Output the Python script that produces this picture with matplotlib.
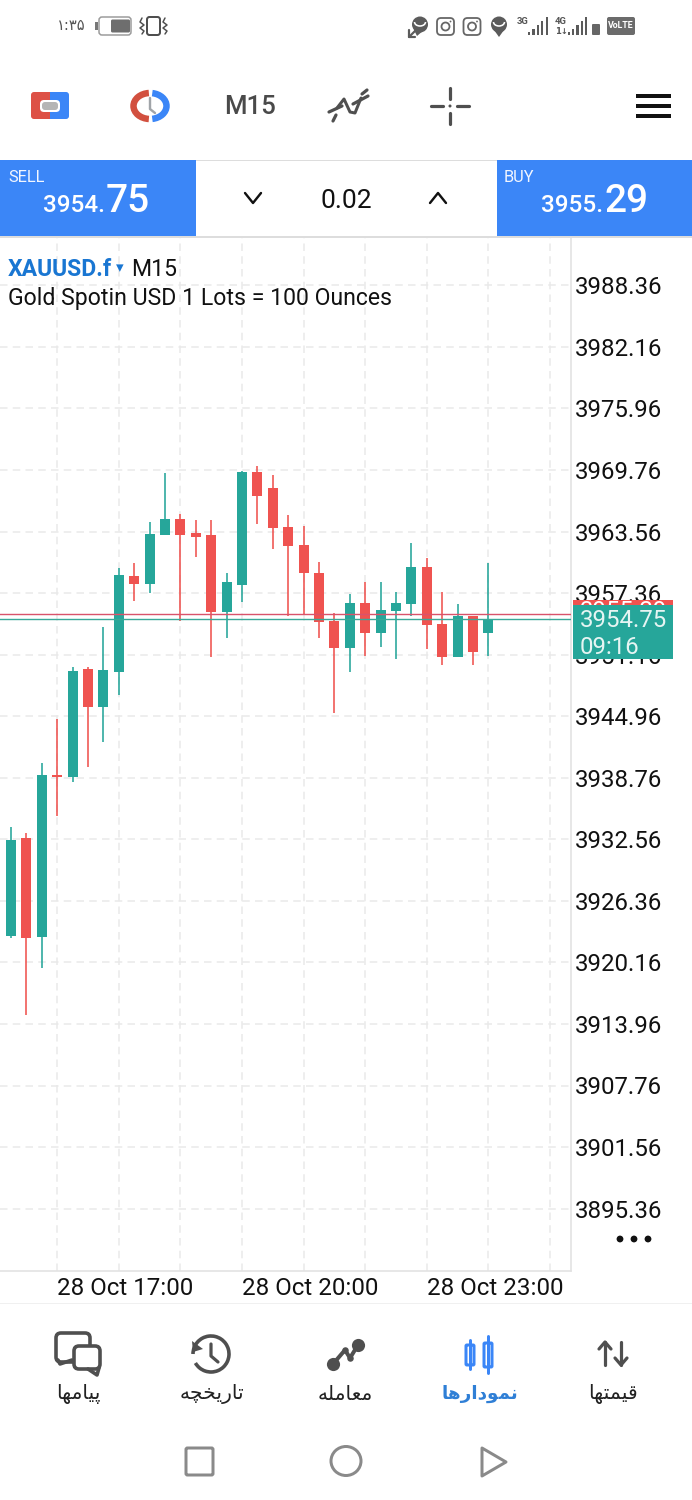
import numpy as np
import matplotlib
matplotlib.use("Agg")
import matplotlib.pyplot as plt
from matplotlib.patches import Rectangle, FancyBboxPatch, Circle, Ellipse, Arc, Polygon

# ---------- data ----------
opens  = [3922.82,3932.69,3922.72,3938.94,3938.84,3949.71,3945.89,3949.41,3959.08,3958.28,3963.21,3964.82,3963.41,3963.21,3955.46,3958.18,
          3969.56,3967.95,3964.02,3962.21,3959.38,3954.55,3951.83,3956.36,3953.34,3955.56,3956.26,3959.99,3954.25,3950.92,3955.05,3953.34]
closes = [3932.49,3922.62,3939.04,3938.84,3949.51,3945.89,3949.61,3959.18,3958.28,3963.31,3964.82,3963.21,3963.01,3955.46,3958.48,3969.56,
          3967.14,3963.92,3962.10,3959.38,3954.45,3951.83,3956.36,3953.34,3955.66,3956.36,3959.99,3954.15,3950.92,3955.05,3951.43,3954.75]
highs  = [3933.80,3933.19,3940.25,3944.68,3949.92,3949.92,3953.95,3959.89,3960.39,3964.52,3969.46,3965.33,3964.72,3964.72,3959.38,3969.66,
          3970.16,3969.26,3965.23,3964.12,3960.49,3955.36,3957.27,3958.48,3958.48,3957.47,3962.41,3960.90,3957.47,3956.26,3955.05,3960.39]
lows   = [3922.62,3914.86,3919.60,3934.91,3938.33,3939.84,3942.36,3947.10,3956.56,3957.37,3963.21,3954.55,3961.00,3950.92,3952.84,3956.46,
          3964.32,3961.80,3955.05,3955.25,3952.84,3945.28,3949.41,3951.02,3951.93,3950.72,3955.05,3951.73,3950.12,3950.92,3950.12,3951.02]
price_ticks = [3895.36,3901.56,3907.76,3913.96,3920.16,3926.36,3932.56,3938.76,3944.96,3951.16,3957.36,3963.56,3969.76,3975.96,3982.16,3988.36]
time_ticks = [3,7,11,15,19,23,27,31,35]
time_labels = ["28 Oct 17:00","","","28 Oct 20:00","","","28 Oct 23:00","",""]
bid = 3954.75
ask = 3955.29
sell_big, sell_small = "75", "3954."
buy_big, buy_small = "29", "3955."
lot = "0.02"

nav_labels = ["\ufb58\ufbff\ufe8e\ufee3\ufeec\ufe8e"[::-1],
              "\ufe97\ufe8e\ufead\ufbfe\ufea8\ufb7d\ufeea"[::-1],
              "\ufee3\ufecc\ufe8e\ufee3\ufee0\ufeea"[::-1],
              "\ufee7\ufee4\ufeee\ufea9\ufe8d\ufead\ufeeb\ufe8e"[::-1],
              "\ufed7\ufbff\ufee4\ufe98\ufeec\ufe8e"[::-1]]
nav_x = [78,212,345,480,613]

TEAL, RED, BLUE = "#26a69a", "#ef5350", "#3b86f7"
GRID = "#e9e9e9"
plt.rcParams["font.family"] = ["Roboto", "DejaVu Sans"]
px = 0.72  # one pixel in points at dpi 100

fig = plt.figure(figsize=(6.92, 15), dpi=100, facecolor="white")
W, H = 692, 1500
ax = fig.add_axes([0, (H-1271)/H, 571/W, (1271-237)/H], zorder=1)
unit = 15.4
ax.set_xlim(-11/unit, (571-11)/unit)
p = lambda y: 3969.76 - (y-470)*6.2/61.55
ax.set_ylim(p(1271), p(237))

# ---------- candles ----------
x = np.arange(len(opens))
o, c, h, l = map(np.array, (opens, closes, highs, lows))
cols = [TEAL if b >= a else RED for a, b in zip(o, c)]
ax.vlines(x, l, h, colors=cols, lw=1.6*px, zorder=3)
ax.bar(x, np.maximum(np.abs(c-o), 0.2), bottom=np.minimum(o, c), width=10/unit, color=cols, zorder=4, linewidth=0)
ax.axhline(ask, color="#d9536b", lw=1.4*px, zorder=5)
ax.axhline(bid, color="#3aa898", lw=1.4*px, zorder=5)

ax.set_yticks(price_ticks)
ax.set_yticklabels([f"{v:.2f}" for v in price_ticks])
ax.set_xticks(time_ticks)
ax.set_xticklabels(time_labels, ha="left")
ax.yaxis.tick_right()
ax.tick_params(axis="y", length=0, pad=3, labelsize=17.3, labelcolor="#111111")
ax.tick_params(axis="x", length=0, pad=4, labelsize=17.4, labelcolor="#111111")
ax.grid(True, color=GRID, lw=1.5*px, linestyle=(0, (5, 3.5)), zorder=0)
ax.set_axisbelow(True)
for s in ("top", "left"):
    ax.spines[s].set_visible(False)
for s in ("right", "bottom"):
    ax.spines[s].set_color("#e2e2e2")
    ax.spines[s].set_linewidth(1.6*px)

# ---------- interface overlay, in screen pixels ----------
ov = fig.add_axes([0, 0, 1, 1], zorder=2)
ov.set_xlim(0, W); ov.set_ylim(H, 0); ov.axis("off"); ov.patch.set_alpha(0)
DK = "#4f4f4f"
def rect(x0, y0, x1, y1, fc, **k):
    ov.add_patch(Rectangle((x0, y0), x1-x0, y1-y0, fc=fc, ec="none", **k))
def rrect(x0, y0, x1, y1, r, fc="none", ec="none", lw=0, **k):
    ov.add_patch(FancyBboxPatch((x0+r, y0+r), x1-x0-2*r, y1-y0-2*r, boxstyle=f"round,pad={r},rounding_size={r}", fc=fc, ec=ec, lw=lw*px, **k))
def line(xs, ys, col=DK, lw=3, **k):
    ov.plot(xs, ys, color=col, lw=lw*px, solid_capstyle=k.pop("cap", "round"), solid_joinstyle="round", **k)
def txt(x0, y0, s, size, col="#111111", ha="left", va="center", **k):
    ov.text(x0, y0, s, fontsize=size, color=col, ha=ha, va=va, **k)

# price flags
rect(573, 600, 673, 625, RED, zorder=5)
txt(580, 612, f"{ask:.2f}", 17.3, "white", zorder=6)
rect(573, 605, 673, 659, TEAL, zorder=7)
txt(580, 620.5, f"{bid:.2f}", 17.3, "#e6f5f3", zorder=8)
txt(580, 647.5, "09:16", 17.3, "#e6f5f3", zorder=8)
for dx in (620, 634, 648):
    ov.add_patch(Circle((dx, 1239), 3.4, fc="#111111", ec="none"))

# title
txt(8, 269, "XAUUSD.f", 16.6, "#1976d2", fontweight="bold")
txt(116, 268, "\u25be", 11, "#1976d2")
txt(131, 269, "M15", 16.6, "#111111")
txt(8, 298, "Gold Spotin USD 1 Lots = 100 Ounces", 16.6, "#111111")

# trade bar
rect(0, 160, 195.5, 236.5, BLUE)
rect(496.5, 160, 692, 236.5, BLUE)
rect(195.5, 159.5, 496.5, 161, "#dddddd")
rect(0, 235.5, 692, 237.5, "#dddddd")
txt(8, 178, "SELL", 11.8, "#f2f6ff")
txt(504, 178, "BUY", 11.8, "#f2f6ff")
txt(105, 212, sell_small, 17.5, "white", ha="right", va="baseline", fontweight="medium")
txt(106, 212, sell_big, 28, "white", va="baseline", fontweight="medium")
txt(603, 212, buy_small, 17.5, "white", ha="right", va="baseline", fontweight="medium")
txt(604, 212, buy_big, 28, "white", va="baseline", fontweight="medium")
txt(346, 200.5, lot, 19, "#111111", ha="center")
line([245, 253, 261], [193, 203, 193], "#111111", 2.4)
line([430, 438, 446], [203, 193, 203], "#111111", 2.4)

# status bar
ov.text(57, 26, "\u06f1:\u06f3\u06f5", fontsize=10.5, color="#555555", va="center", family=["DejaVu Sans"])
rrect(99, 17, 131, 35, 3, fc="white", ec="#9a9a9a", lw=1.5)
rrect(111, 19.5, 130, 32.5, 1.5, fc="#6e6e6e")
rect(95, 22, 97.5, 30, "#777777")
rrect(147, 17, 160, 35, 2.5, fc="white", ec=DK, lw=2)
for vx in (142, 165):
    line([vx, vx-2, vx+2, vx-2, vx+2, vx], [18, 22, 25, 28, 31, 34], DK, 1.5)
# notification icons
for cx in (420, 499):
    ov.add_patch(Ellipse((cx, 24.5), 16, 16, fc="#5b5b5b", ec="none"))
    ov.add_patch(Arc((cx, 22), 11, 8, theta1=0, theta2=180, color="white", lw=1.6*px))
ov.add_patch(Polygon([[414, 30], [424, 30], [417, 36]], fc="#5b5b5b", ec="none"))
line([409, 417], [37, 29], "#5b5b5b", 2.2)
line([409, 409, 415], [30, 37, 37], "#5b5b5b", 2.2)
ov.add_patch(Polygon([[494, 30], [504, 30], [499, 37]], fc="#5b5b5b", ec="none"))
for cx in (445.5, 472):
    rrect(cx-8.5, 18, cx+8.5, 35, 4, ec="#666666", lw=1.8)
    ov.add_patch(Circle((cx, 26.5), 4, fc="none", ec="#666666", lw=1.8*px))
    ov.add_patch(Circle((cx+5, 21.5), 0.9, fc="#666666", ec="none"))
txt(517, 21, "3G", 6.8, "#555555", fontweight="bold")
txt(555, 21, "4G", 6.8, "#555555", fontweight="bold")
txt(555, 31, "1\u2193", 6, "#555555", family=["DejaVu Sans"], fontweight="bold")
for i, top in enumerate((32, 29, 25, 21, 17)):
    rect(528+i*4.4, top, 530.2+i*4.4, 35, "#5b5b5b")
for i, top in enumerate((32, 29, 25, 21, 17)):
    rect(568+i*4.2, top, 570.2+i*4.2, 35, "#5b5b5b")
rrect(592, 24, 600, 35, 1, fc="#666666")
rrect(607, 17, 635, 35, 2, fc="#6b6b6b")
txt(621, 26, "VoLTE", 6.4, "white", ha="center", fontweight="bold")

# toolbar
rrect(31, 92, 50, 119, 3, fc="#dd5146")
rrect(50, 92, 69, 119, 3, fc=BLUE)
rect(44, 92, 50, 119, "#dd5146"); rect(50, 92, 56, 119, BLUE)
rrect(40, 100, 60, 112, 4, fc="white")
rrect(42, 102, 58, 110, 3, fc="#b5b5b5")
ov.add_patch(Arc((150, 106), 33, 26, theta1=95, theta2=265, color="#d2503f", lw=6.5*px))
ov.add_patch(Arc((150, 106), 33, 26, theta1=-80, theta2=80, color=BLUE, lw=6.5*px))
line([150, 150, 155], [98, 109, 113], "#a0a4a8", 2.4)
txt(250, 107, "M15", 18.5, "#4a4a4a", ha="center", fontweight="medium")
line([337, 344, 350, 355, 361], [108, 99, 112, 113, 98], DK, 3)
line([329, 342], [112, 106], DK, 3.2)
line([333, 336], [121, 115], DK, 3.2)
line([353, 368], [104, 96], DK, 3.2)
line([362, 367], [94, 90], DK, 3.2)
line([431, 443], [106, 106], DK, 3.2); line([457, 469], [106, 106], DK, 3.2)
line([450, 450], [88, 99], DK, 3.2); line([450, 450], [113, 124], DK, 3.2)
ov.add_patch(Circle((450, 106), 1.5, fc=DK, ec="none"))
for hy in (96, 106, 115.5):
    rect(636, hy-2, 671, hy+2, "#111111")

# bottom bar
rect(0, 1302.5, 692, 1303.5, "#f0f0f0")
rrect(56, 1333, 90, 1362, 5, fc="white", ec=DK, lw=3.6)
line([58, 60, 72], [1360, 1364, 1360], DK, 3.6)
rrect(74, 1346, 100, 1369, 5, fc="white", ec=DK, lw=3.6)
line([88, 97, 99], [1369, 1375, 1368], DK, 3.6)
ov.add_patch(Arc((211, 1354), 36, 36, theta1=-180, theta2=150, color=DK, lw=3.6*px))
ov.add_patch(Polygon([[192, 1341], [193, 1352], [203, 1349]], fc=DK, ec="none"))
line([211, 211, 218], [1344, 1356, 1362], DK, 3.2)
lx = np.array([333, 345, 350, 358])
ly = np.array([1364, 1350, 1358, 1345])
line(lx, ly, DK, 4)
ov.scatter(lx[[0, 3]], ly[[0, 3]], s=90, color=DK, zorder=5, linewidths=0)
ov.scatter(lx[[1, 2]], ly[[1, 2]], s=22, color=DK, zorder=5, linewidths=0)
for cx, t0, b0, t1, b1 in ((470, 1340, 1369, 1345, 1365), (488, 1336, 1373, 1343, 1367)):
    line([cx, cx], [t0, b0], BLUE, 3)
    rrect(cx-4, t1, cx+4, b1, 1, fc="white", ec=BLUE, lw=3)
line([605, 605], [1342, 1365], DK, 3.2)
line([599, 605, 611], [1349, 1342, 1349], DK, 3.2)
line([621, 621], [1342, 1365], DK, 3.2)
line([615, 621, 627], [1358, 1365, 1358], DK, 3.2)
for i, (nx, s) in enumerate(zip(nav_x, nav_labels)):
    ov.text(nx, 1394, s, fontsize=13.2 if i == 3 else 14.6, color="#2f7fd6" if i == 3 else "#222222", ha="center", va="center",
            family=["DejaVu Sans"], fontweight="bold" if i == 3 else "normal")

# system navigation
GR = "#8a8a8a"
rrect(186, 1448, 213, 1475, 1.5, ec=GR, lw=3)
ov.add_patch(Ellipse((346, 1461), 30, 29, fc="none", ec=GR, lw=3*px))
ov.add_patch(Polygon([[482, 1448], [506, 1462], [482, 1476]], closed=True, fc="none", ec=GR, lw=3*px, joinstyle="round"))

fig.savefig("out.png", dpi=100)
